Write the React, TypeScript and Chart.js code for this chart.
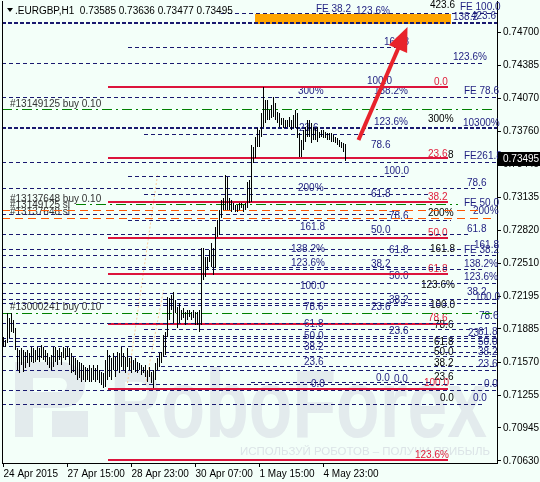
import React, { useEffect, useRef } from "react";
import { Chart, registerables } from "chart.js";
Chart.register(...registerables);

// ---- data ----
const highs = [
  0.71808, 0.71779, 0.72035, 0.71988, 0.72035, 0.71969, 0.71893, 0.71703, 0.71684, 0.71703,
  0.71684, 0.71665, 0.71684, 0.71656, 0.71713, 0.71703, 0.71684, 0.71713, 0.71703, 0.71732,
  0.71713, 0.71684, 0.71656, 0.71618, 0.71637, 0.71713, 0.71713, 0.71684, 0.71703, 0.71665,
  0.71713, 0.71703, 0.71713, 0.71703, 0.71656, 0.71618, 0.71608, 0.71589, 0.7157, 0.71561,
  0.71542, 0.71523, 0.71513, 0.71542, 0.71513, 0.71542, 0.71513, 0.71542, 0.71494, 0.71475,
  0.71466, 0.71589, 0.71684, 0.71637, 0.71608, 0.71656, 0.71618, 0.71665, 0.71656, 0.71713,
  0.71656, 0.71618, 0.71703, 0.71608, 0.71618, 0.71589, 0.71608, 0.7157, 0.71561, 0.71542,
  0.71523, 0.71542, 0.71494, 0.71523, 0.71475, 0.71494, 0.71561, 0.71608, 0.71656, 0.71665,
  0.71827, 0.71855, 0.72187, 0.72178, 0.72206, 0.72235, 0.72159, 0.72092, 0.7213, 0.72064,
  0.72083, 0.72045, 0.72064, 0.72064, 0.72045, 0.72064, 0.72045, 0.72045, 0.72064, 0.72652,
  0.72652, 0.72567, 0.72567, 0.72634, 0.727, 0.72652, 0.72852, 0.72918, 0.73013, 0.73108,
  0.73127, 0.73345, 0.73327, 0.73127, 0.73108, 0.7308, 0.73061, 0.73061, 0.7308, 0.7308,
  0.73061, 0.7308, 0.73279, 0.73298, 0.7363, 0.73611, 0.73706, 0.73792, 0.73773, 0.73934,
  0.74181, 0.74058, 0.74058, 0.73963, 0.7401, 0.74086, 0.74029, 0.73944, 0.73934, 0.73887,
  0.73887, 0.73868, 0.73868, 0.73896, 0.73868, 0.73915, 0.73963, 0.73934, 0.73744, 0.73678,
  0.73773, 0.73801, 0.73868, 0.73868, 0.73839, 0.73801, 0.73792, 0.73801, 0.73754, 0.73773,
  0.73773, 0.73754, 0.73744, 0.73744, 0.73744, 0.73725, 0.73706, 0.73697, 0.73678, 0.73659,
  0.73649, 0.73636,
];
const lows = [
  0.71713, 0.71713, 0.71751, 0.71798, 0.71855, 0.71846, 0.71684, 0.71494, 0.71466, 0.71542,
  0.71475, 0.71513, 0.71561, 0.71523, 0.7157, 0.71561, 0.7157, 0.71589, 0.7157, 0.71608,
  0.71589, 0.7157, 0.71542, 0.71513, 0.71494, 0.71523, 0.7157, 0.71542, 0.71589, 0.71542,
  0.71608, 0.71589, 0.71618, 0.71542, 0.71466, 0.71475, 0.71447, 0.71399, 0.71418, 0.7138,
  0.71399, 0.7138, 0.71399, 0.7138, 0.7138, 0.71399, 0.7138, 0.71399, 0.71371, 0.71352,
  0.71323, 0.71333, 0.71399, 0.71428, 0.71399, 0.71494, 0.71428, 0.71494, 0.71466, 0.71523,
  0.71494, 0.71466, 0.71523, 0.71494, 0.71466, 0.71494, 0.71475, 0.71466, 0.71494, 0.71447,
  0.71466, 0.71428, 0.7138, 0.71428, 0.71371, 0.71323, 0.71399, 0.71494, 0.71523, 0.71561,
  0.71618, 0.71637, 0.71808, 0.71969, 0.72064, 0.7194, 0.72035, 0.71893, 0.7194, 0.71969,
  0.71988, 0.71921, 0.71969, 0.71997, 0.71969, 0.71988, 0.71921, 0.71921, 0.71855, 0.71921,
  0.72349, 0.72377, 0.72444, 0.7252, 0.72472, 0.72396, 0.72463, 0.72757, 0.72776, 0.72937,
  0.73013, 0.73013, 0.73013, 0.73013, 0.72994, 0.73013, 0.72994, 0.72994, 0.73013, 0.73032,
  0.72994, 0.73013, 0.73032, 0.7308, 0.73089, 0.73459, 0.73507, 0.73611, 0.73611, 0.73706,
  0.73801, 0.73839, 0.73868, 0.73868, 0.73887, 0.73896, 0.73868, 0.73839, 0.73801, 0.7382,
  0.73792, 0.73792, 0.73801, 0.73801, 0.73773, 0.73792, 0.73792, 0.73697, 0.73516, 0.73516,
  0.73583, 0.73659, 0.73706, 0.73706, 0.73649, 0.73678, 0.73678, 0.73659, 0.73697, 0.73706,
  0.73697, 0.73697, 0.73678, 0.73678, 0.73659, 0.73659, 0.73649, 0.7363, 0.73611, 0.73602,
  0.73564, 0.73477,
];
const symbol = ".EURGBP,H1";
const lastQuote = [0.73585, 0.73636, 0.73477, 0.73495]; // O H L C
const xTickIndex = [0, 32, 64, 96, 128, 160];
const xTickLabels = ["24 Apr 2015", "27 Apr 15:00", "28 Apr 23:00", "30 Apr 07:00", "1 May 15:00", "4 May 23:00"];
const yTickValues = [0.747, 0.74385, 0.7407, 0.7376, 0.73445, 0.73135, 0.7282, 0.7251, 0.72195, 0.71885, 0.7157, 0.71255, 0.70945, 0.7063];

// levels: [price, fromBar, toBar]
const navyLevels: [number, number, number][] = [
  [0.74884, 108.5, 247], [0.74561, 62, 197], [0.74409, -0.75, 240], [0.74086, -0.75, 247],
  [0.73735, 70, 182], [0.73469, -0.75, 247], [0.73336, 62, 201], [0.73222, -0.75, 240],
  [0.73165, 70, 212], [0.72966, -0.75, 198.5], [0.72909, 62, 223.5], [0.72785, -0.75, 233.5],
  [0.72643, -0.75, 228.5], [0.72577, -0.75, 247], [0.72472, -0.75, 222], [0.72453, 62, 240],
  [0.7232, -0.75, 247], [0.72216, -0.75, 212], [0.72168, -0.75, 247], [0.7213, -0.75, 247],
  [0.72102, 62, 222], [0.7194, -0.75, 247], [0.71874, 70, 240], [0.71808, 62, 247],
  [0.71789, -0.75, 247], [0.7176, -0.75, 247], [0.71713, -0.75, 247], [0.71656, 70, 247],
  [0.71618, -0.75, 247], [0.71523, 78.5, 247], [0.71485, -0.75, 247], [0.71371, 123.5, 213.5],
  [0.71352, 62, 247], [0.71304, -0.75, 247], [0.71171, -0.75, 240],
];
const heavyLevels: [number, number, number][] = [
  [0.74789, -0.75, 247], [0.73792, -0.75, 247],
];
const redLevels = [0.74181, 0.73507, 0.73089, 0.72747, 0.72406, 0.71931, 0.71314, 0.7064];
const redSpan = [52, 222];
const greenLevels: [number, number, number][] = [
  [0.73963, -0.75, 245], [0.7307, 36, 227], [0.72035, -0.75, 245],
];
const orangeLevels: [number, number, number][] = [
  [0.73004, -0.75, 238.5], [0.72937, -0.75, 243.5],
];
// trend lines: [bar1, price1, bar2, price2]
const trendLines: [number, number, number, number][] = [
  [62, 0.71371, 77, 0.73345], [71, 0.71352, 80, 0.72254],
];
const targetZone = [126, 223.5, 0.74779, 0.74874];
const arrowPath = [177.5, 0.73678, 202, 0.74751];

// labels: [text, bar, price, colour key]
const fiboLabels: [string, number, number, string][] = [
  ["FE 38.2", 156, 0.74922, "N"], ["123.6%", 176, 0.74903, "N"], ["423.6", 213, 0.7496, "K"],
  ["FE 100.0", 228, 0.74941, "N"], ["138.2", 224.5, 0.74846, "N"], ["423.6", 233.5, 0.74855, "N"],
  ["161.8", 190, 0.74608, "N"], ["123.6%", 224.5, 0.74466, "N"], ["100.0", 181.5, 0.74238, "N"],
  ["0.0", 215, 0.74229, "R"], ["300%", 147, 0.74143, "N"], ["138.2%", 185, 0.74143, "N"],
  ["FE 78.6", 230, 0.74143, "N"], ["123.6%", 185, 0.73849, "N"], ["300%", 212, 0.73877, "K"],
  ["10300%", 229.5, 0.73839, "N"], ["23.6", 147.5, 0.73792, "N"], ["78.6", 183.5, 0.7363, "N"],
  ["23.6", 212, 0.73545, "R"], ["8", 222, 0.73535, "K"], ["FE261.8", 230, 0.73526, "N"],
  ["100.0", 190, 0.73383, "N"], ["78.6", 231.5, 0.7327, "N"], ["200%", 147, 0.73222, "N"],
  ["61.8", 183.5, 0.73165, "N"], ["38.2", 212, 0.73137, "R"], ["FE 50.0", 230, 0.7308, "N"],
  ["78.6", 192.5, 0.72956, "N"], ["200%", 212, 0.72985, "K"], ["200%", 234.5, 0.73004, "N"],
  ["161.8", 148, 0.72852, "N"], ["50.0", 183.5, 0.72823, "N"], ["50.0", 212, 0.72795, "R"],
  ["61.8", 231.5, 0.72833, "N"], ["138.2%", 143.5, 0.72643, "N"], ["61.8", 192.5, 0.72634, "N"],
  ["161.8", 213, 0.72643, "K"], ["161.8", 235, 0.72681, "N"], ["FE 38.2", 230, 0.72634, "N"],
  ["123.6%", 143.5, 0.7251, "N"], ["38.2", 183.5, 0.72501, "N"], ["138.2%", 230, 0.72501, "N"],
  ["61.8", 212, 0.72453, "R"], ["50.0", 192.5, 0.72387, "N"], ["123.6%", 230, 0.72377, "N"],
  ["123.6%", 208.5, 0.72301, "K"], ["100.0", 148, 0.72292, "N"], ["38.2", 192.5, 0.72159, "N"],
  ["38.2", 231.5, 0.72235, "N"], ["100.0", 235.5, 0.72187, "N"], ["78.6", 150, 0.72092, "N"],
  ["23.6", 183.5, 0.72092, "N"], ["100.0", 213, 0.72111, "K"], ["78.6", 237.5, 0.72007, "N"],
  ["78.6", 212, 0.71988, "R"], ["78.6", 215, 0.71921, "K"], ["61.8", 150, 0.71931, "N"],
  ["23.6", 192.5, 0.71865, "N"], ["23", 232, 0.71846, "N"], ["61.8", 237, 0.71855, "N"],
  ["50.0", 150, 0.71817, "N"], ["61.8", 215, 0.7176, "K"], ["50.0", 237, 0.7176, "N"],
  ["38.2", 150, 0.71713, "N"], ["50.0", 215, 0.71665, "K"], ["38.2", 237, 0.71665, "N"],
  ["23.6", 150, 0.7157, "N"], ["38.2", 215, 0.71561, "K"], ["23.6", 237, 0.71551, "N"],
  ["0.0", 186, 0.71418, "N"], ["0.0", 195, 0.71409, "N"], ["23.6", 215, 0.71428, "K"],
  ["100.0", 210, 0.71371, "R"], ["0.0", 240, 0.71361, "N"], ["0.0", 153.5, 0.71361, "N"],
  ["0.0", 218, 0.71228, "K"], ["0.0", 234.5, 0.71228, "N"], ["123.6%", 205.5, 0.70687, "R"],
];
const orderLabels: [string, number][] = [
  ["#13149125 buy 0.10", 0.7402], ["#13137648 buy 0.10", 0.73118], ["#13137648 sl", 0.72994],
  ["#13149125 sl", 0.73061], ["#13000241 buy 0.10", 0.72092],
];
const orderLabelBar = 3;

// ---- styles ----
const BG = "#F3FFF9";
const NAVY = "#191970";
const RED = "#DC143C";
const GREEN = "#008000";
const ORANGE = "#FF5500";
const COLORS: Record<string, string> = { N: "#1E1E80", R: "#E0203C", K: "#000000" };
const FONT = '"Liberation Sans", Arial, sans-serif';

function levelDs(p: number, a: number, b: number, color: string, width: number, dash: number[]) {
  return {
    type: "line" as const,
    data: [{ x: a, y: p }, { x: b, y: p }],
    borderColor: color,
    borderWidth: width,
    borderDash: dash,
    borderCapStyle: "butt" as const,
    pointRadius: 0,
    fill: false,
    tension: 0,
    order: 2,
    snap: true,
  };
}

function zeroPadding(s: any) {
  s.paddingLeft = 0;
  s.paddingRight = 0;
  s.paddingTop = 0;
  s.paddingBottom = 0;
}

// pixel-snap the horizontal level lines and the bars so they render crisp
const snap = {
  id: "snap",
  beforeDatasetsDraw(chart: any) {
    chart.getSortedVisibleDatasetMetas().forEach((meta: any) => {
      const ds: any = chart.data.datasets[meta.index];
      if (meta.type === "line" && ds.snap) {
        const odd = (ds.borderWidth || 1) % 2 === 1;
        meta.data.forEach((pt: any) => {
          pt.y = odd ? Math.floor(pt.y) + 0.5 : Math.round(pt.y);
          pt.x = Math.round(pt.x);
        });
      } else if (meta.type === "bar") {
        meta.data.forEach((el: any) => {
          el.y = Math.round(el.y);
          el.base = Math.round(el.base);
        });
      }
    });
  },
};

const decor = {
  id: "decor",
  beforeDraw(chart: any) {
    const { ctx, width, height } = chart;
    ctx.save();
    ctx.fillStyle = BG;
    ctx.fillRect(0, 0, width, height);
    ctx.restore();
  },
  beforeDatasetsDraw(chart: any) {
    const { ctx, chartArea: a, scales } = chart;
    const xs = scales.x, ys = scales.y;
    ctx.save();
    // watermark
    ctx.fillStyle = "#E3EBED";
    const L = a.left, B = a.bottom;
    ctx.fillRect(L + 13, B - 101, 18, 75);
    ctx.beginPath();
    ctx.moveTo(L + 31, B - 101);
    ctx.lineTo(L + 60, B - 101);
    ctx.arc(L + 60, B - 78, 23, -Math.PI / 2, Math.PI / 2);
    ctx.lineTo(L + 31, B - 55);
    ctx.lineTo(L + 31, B - 71);
    ctx.lineTo(L + 58, B - 71);
    ctx.arc(L + 58, B - 78, 7, Math.PI / 2, -Math.PI / 2, true);
    ctx.lineTo(L + 31, B - 85);
    ctx.closePath();
    ctx.fill();
    ctx.fillRect(L + 50, B - 52, 36, 26);
    ctx.font = "bold 96px " + FONT;
    const wm = "RoboForex";
    const w = ctx.measureText(wm).width;
    ctx.save();
    ctx.translate(L + 108, B - 26);
    ctx.scale(377 / w, 1);
    ctx.fillText(wm, 0, 0);
    ctx.restore();
    ctx.fillStyle = "#DCE4E7";
    ctx.font = "11px " + FONT;
    const st = "ИСПОЛЬЗУЙ РОБОТОВ – ПОЛУЧИ ПРИБЫЛЬ";
    const w2 = ctx.measureText(st).width;
    ctx.save();
    ctx.translate(L + 238, B - 8);
    ctx.scale(250 / w2, 1);
    ctx.fillText(st, 0, 0);
    ctx.restore();

    // target zone
    const zx1 = Math.round(xs.getPixelForValue(targetZone[0]));
    const zx2 = Math.round(xs.getPixelForValue(targetZone[1]));
    const zy1 = Math.round(ys.getPixelForValue(targetZone[3]));
    const zy2 = Math.round(ys.getPixelForValue(targetZone[2]));
    ctx.fillStyle = "#FFA500";
    ctx.fillRect(zx1, zy1, zx2 - zx1, zy2 - zy1);

    // labels
    ctx.font = "10px " + FONT;
    ctx.textBaseline = "middle";
    ctx.textAlign = "left";
    for (const [t, bar, p, c] of fiboLabels) {
      ctx.fillStyle = COLORS[c];
      ctx.fillText(t, Math.round(xs.getPixelForValue(bar)), Math.round(ys.getPixelForValue(p)));
    }
    ctx.fillStyle = "#333333";
    for (const [t, p] of orderLabels) {
      ctx.fillText(t, Math.round(xs.getPixelForValue(orderLabelBar)), Math.round(ys.getPixelForValue(p)));
    }
    ctx.restore();
  },
  afterDatasetsDraw(chart: any) {
    const { ctx, scales } = chart;
    const xs = scales.x, ys = scales.y;
    const x1 = xs.getPixelForValue(arrowPath[0]);
    const y1 = ys.getPixelForValue(arrowPath[1]);
    const x2 = xs.getPixelForValue(arrowPath[2]);
    const y2 = ys.getPixelForValue(arrowPath[3]);
    const dx = x2 - x1, dy = y2 - y1;
    const len = Math.hypot(dx, dy);
    const ux = dx / len, uy = dy / len;
    const head = 24, half = 10;
    const bx = x2 - ux * head, by = y2 - uy * head;
    ctx.save();
    ctx.strokeStyle = "#E8232B";
    ctx.fillStyle = "#E8232B";
    ctx.lineWidth = 4;
    ctx.beginPath();
    ctx.moveTo(x1, y1);
    ctx.lineTo(bx + ux * 2, by + uy * 2);
    ctx.stroke();
    ctx.beginPath();
    ctx.moveTo(x2, y2);
    ctx.lineTo(bx - uy * half, by + ux * half);
    ctx.lineTo(bx + uy * half, by - ux * half);
    ctx.closePath();
    ctx.fill();
    ctx.restore();
  },
  afterDraw(chart: any) {
    const { ctx, chartArea: a, scales } = chart;
    const ys = scales.y;
    ctx.save();
    ctx.strokeStyle = "#000";
    ctx.lineWidth = 1;
    ctx.beginPath();
    ctx.moveTo(a.left + 0.5, a.top);
    ctx.lineTo(a.left + 0.5, a.bottom);
    ctx.stroke();
    // title
    ctx.fillStyle = "#000";
    ctx.beginPath();
    ctx.moveTo(a.left + 5, a.top + 7);
    ctx.lineTo(a.left + 11, a.top + 7);
    ctx.lineTo(a.left + 8, a.top + 11);
    ctx.closePath();
    ctx.fill();
    ctx.font = "10px " + FONT;
    ctx.textBaseline = "middle";
    ctx.textAlign = "left";
    ctx.fillText(symbol + "  " + lastQuote.map((v) => v.toFixed(5)).join(" "), a.left + 13, a.top + 10);
    // current price box
    const py = ys.getPixelForValue(lastQuote[3]);
    ctx.fillStyle = "#000";
    ctx.fillRect(a.right + 1, Math.round(py) - 7, 43, 14);
    ctx.fillStyle = "#FFF";
    ctx.fillText(lastQuote[3].toFixed(5), a.right + 6, Math.round(py));
    ctx.restore();
  },
};

export default function App() {
  const ref = useRef<HTMLCanvasElement>(null);
  useEffect(() => {
    document.body.style.margin = "0";
    const datasets: any[] = [
      {
        type: "bar",
        data: highs.map((h, i) => ({ x: i, y: [lows[i], h] })),
        backgroundColor: "#000",
        borderWidth: 0,
        barThickness: 1,
        inflateAmount: 0,
        grouped: false,
        order: 0,
      },
      ...navyLevels.map(([p, a, b]) => levelDs(p, a, b, NAVY, 1, [4, 3])),
      ...heavyLevels.map(([p, a, b]) => levelDs(p, a, b, NAVY, 2, [4, 2])),
      ...redLevels.map((p) => levelDs(p, redSpan[0], redSpan[1], RED, 2, [])),
      ...greenLevels.map(([p, a, b]) => levelDs(p, a, b, GREEN, 1, [10, 4, 2, 4])),
      ...orangeLevels.map(([p, a, b]) => levelDs(p, a, b, ORANGE, 1, [8, 5])),
      ...trendLines.map(([b1, p1, b2, p2]) => ({
        type: "line",
        data: [{ x: b1, y: p1 }, { x: b2, y: p2 }],
        borderColor: "#FBCB9B",
        borderWidth: 1,
        borderDash: [2, 2],
        pointRadius: 0,
        fill: false,
        order: 3,
      })),
    ];
    const chart = new Chart(ref.current!, {
      type: "bar",
      data: { datasets },
      plugins: [snap, decor],
      options: {
        animation: false,
        responsive: false,
        devicePixelRatio: 1,
        events: [],
        layout: { padding: { left: 2, top: 1, right: 0, bottom: 0 }, autoPadding: false },
        plugins: { legend: { display: false }, tooltip: { enabled: false } },
        scales: {
          x: {
            type: "linear",
            position: "bottom",
            bounds: "data",
            offset: false,
            min: -0.75,
            max: 246.75,
            afterBuildTicks: (s: any) => {
              s.ticks = xTickIndex.map((v) => ({ value: v }));
            },
            afterFit: (s: any) => {
              s.height = 19;
              zeroPadding(s);
            },
            ticks: {
              autoSkip: false,
              maxRotation: 0,
              minRotation: 0,
              align: "start",
              padding: 1,
              color: "#000",
              font: { family: FONT, size: 10 },
              callback: (_v: any, i: number) => xTickLabels[i],
            },
            grid: { offset: false, drawOnChartArea: false, drawTicks: true, tickLength: 4, color: "#000" },
            border: { display: true, color: "#000" },
          },
          y: {
            type: "linear",
            position: "right",
            bounds: "data",
            min: 0.70611,
            max: 0.74998,
            afterBuildTicks: (s: any) => {
              s.ticks = yTickValues.map((v) => ({ value: v }));
            },
            afterFit: (s: any) => {
              s.width = 43;
              zeroPadding(s);
            },
            ticks: {
              autoSkip: false,
              padding: 2,
              color: "#000",
              font: { family: FONT, size: 10 },
              callback: (v: any) => Number(v).toFixed(5),
            },
            grid: { drawOnChartArea: false, drawTicks: true, tickLength: 4, color: "#000" },
            border: { display: true, color: "#000" },
          },
        },
      } as any,
    } as any);
    return () => chart.destroy();
  }, []);
  return <canvas ref={ref} width={540} height={482} style={{ display: "block", width: 540, height: 482 }} />;
}
